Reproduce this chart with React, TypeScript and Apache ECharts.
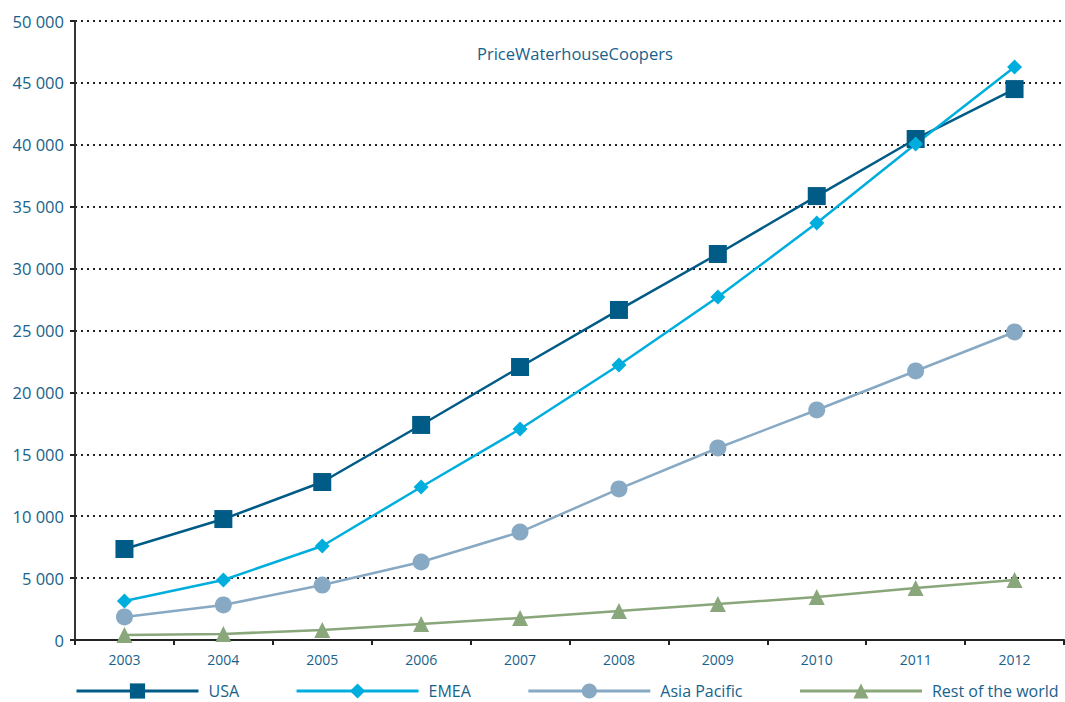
import React, { useEffect, useRef } from "react";
import * as echarts from "echarts";

const years = ["2003", "2004", "2005", "2006", "2007", "2008", "2009", "2010", "2011", "2012"];
const usa = [7350, 9770, 12760, 17370, 22050, 26660, 31180, 35860, 40470, 44500];
const emea = [3150, 4850, 7590, 12360, 17040, 22210, 27710, 33680, 40070, 46280];
const asiaPacific = [1860, 2830, 4440, 6300, 8720, 12200, 15510, 18580, 21730, 24880];
const restOfWorld = [400, 490, 810, 1290, 1780, 2340, 2910, 3470, 4200, 4850];

const labelColor = "#17628c";
const font = "'Open Sans', 'Noto Sans', sans-serif";

export default function App() {
  const ref = useRef<HTMLDivElement>(null);
  useEffect(() => {
    if (!ref.current) return;
    const chart = echarts.init(ref.current, null, { renderer: "svg" });
    const mk = (name: string, data: number[], color: string, symbol: string, size: number) => ({
      name,
      type: "line",
      data,
      symbol,
      symbolSize: size,
      showAllSymbol: true,
      lineStyle: { color, width: 2.5 },
      itemStyle: { color },
      emphasis: { disabled: true },
    });
    chart.setOption({
      animation: false,
      title: {
        text: "PriceWaterhouseCoopers",
        left: 472,
        top: 40,
        textStyle: { color: labelColor, fontFamily: font, fontSize: 16.5, fontWeight: "normal" },
      },
      legend: {
        left: 75,
        top: 683,
        width: 990,
        itemWidth: 122,
        itemHeight: 19,
        itemGap: 56,
        padding: 0,
        lineStyle: { width: 3 },
        textStyle: { color: labelColor, fontFamily: font, fontSize: 16, padding: [0, 0, 0, 5] },
        data: ["USA", "EMEA", "Asia Pacific", "Rest of the world"],
      },
      grid: { left: 75, right: 1, top: 21, bottom: 62, containLabel: false },
      xAxis: {
        type: "category",
        data: years,
        boundaryGap: true,
        axisLine: { lineStyle: { color: "#222", width: 2 } },
        axisTick: { show: true, inside: false, length: 5, lineStyle: { color: "#222", width: 2 } },
        axisLabel: { color: labelColor, fontFamily: font, fontSize: 14, margin: 12 },
      },
      yAxis: {
        type: "value",
        min: 0,
        max: 50000,
        interval: 5000,
        axisLine: { show: true, lineStyle: { color: "#333", width: 2 } },
        axisTick: { show: true, length: 5, lineStyle: { color: "#222", width: 2 } },
        axisLabel: {
          color: labelColor,
          fontFamily: font,
          fontSize: 16.5,
          margin: 11,
          formatter: (v: number) => (v >= 1000 ? `${Math.floor(v / 1000)} ${String(v % 1000).padStart(3, "0")}` : `${v}`),
        },
        splitLine: { show: true, lineStyle: { color: "#222", width: 2, type: [2, 4] } },
      },
      series: [
        mk("USA", usa, "#005b86", "rect", 18),
        mk("EMEA", emea, "#00aedd", "diamond", 15),
        mk("Asia Pacific", asiaPacific, "#87a9c4", "circle", 17),
        mk("Rest of the world", restOfWorld, "#8aa67b", "triangle", 16),
      ],
    });
    return () => chart.dispose();
  }, []);
  return <div ref={ref} style={{ width: 1065, height: 702, position: "absolute", left: 0, top: 0 }} />;
}
